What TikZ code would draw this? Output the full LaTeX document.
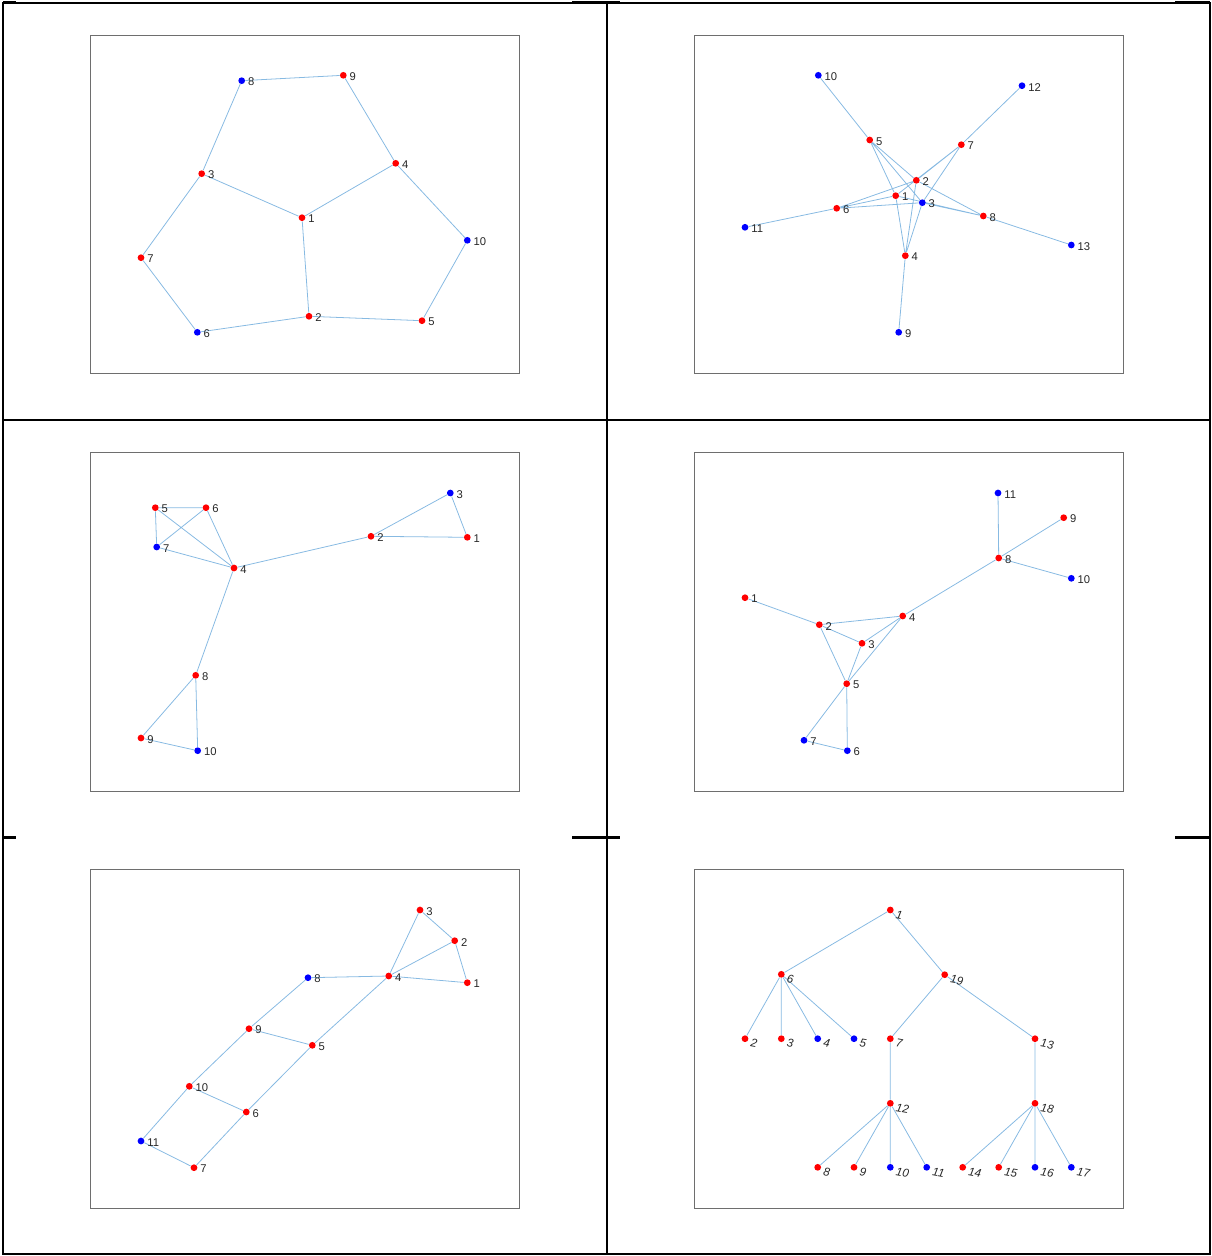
\documentclass[tikz,border=0pt]{standalone}
\usepackage{fontspec}
\setmainfont{Liberation Sans}
\usetikzlibrary{backgrounds}
\definecolor{edgeblue}{RGB}{135,186,226}
\definecolor{txtgray}{RGB}{38,38,38}
\definecolor{boxgray}{RGB}{110,110,110}

\begin{document}
\begin{tikzpicture}[x=0.02cm, y=-0.02cm,
    vr/.style={circle, fill=red, inner sep=0pt, minimum size=0.135cm},
    vb/.style={circle, fill=blue, inner sep=0pt, minimum size=0.135cm},
    lb/.style={font=\fontsize{6.4}{7}\selectfont, text=txtgray, inner sep=0pt, yshift=-0.8pt},
    tlb/.style={lb, font=\fontsize{6.6}{7}\selectfont\itshape, rotate=-10, yshift=2pt},
    ed/.style={draw=edgeblue, line width=0.45pt},
    frame/.style={draw=boxgray, line width=0.45pt},
    label distance=1.3pt]

    \useasboundingbox (0,0) rectangle (1212,1256);

    %table lines
    \draw[line width=0.85pt] (3,3) rectangle (1210,1254);
    \draw[line width=0.85pt] (607,3) -- (607,1254);
    \draw[line width=0.85pt] (3,420) -- (1210,420);
    \draw[line width=1.7pt] (3,3) -- (16,3) (572,3) -- (620,3) (1175,3) -- (1210,3);
    \draw[line width=1.7pt] (3,420) -- (16,420) (572,420) -- (620,420) (1175,420) -- (1210,420);
    \draw[line width=1.7pt] (3,837) -- (16,837) (572,837) -- (620,837) (1175,837) -- (1210,837);

    %plot frames
    \draw[frame] (90,35) rectangle (519,373);
    \draw[frame] (694,35) rectangle (1123,373);
    \draw[frame] (90,452) rectangle (519,791);
    \draw[frame] (694,452) rectangle (1123,791);
    \draw[frame] (90,869) rectangle (519,1208);
    \draw[frame] (694,869) rectangle (1123,1208);

    %graph 1
    \node[vr, label={[lb]0:1}] (a1) at (302,217.7) {};
    \node[vr, label={[lb]0:2}] (a2) at (309,316.3) {};
    \node[vr, label={[lb]0:3}] (a3) at (201.7,173.7) {};
    \node[vr, label={[lb]0:4}] (a4) at (395.7,163.3) {};
    \node[vr, label={[lb]0:5}] (a5) at (422,320.7) {};
    \node[vb, label={[lb]0:6}] (a6) at (197.3,332.3) {};
    \node[vr, label={[lb]0:7}] (a7) at (141,257.7) {};
    \node[vb, label={[lb]0:8}] (a8) at (241.7,80.7) {};
    \node[vr, label={[lb]0:9}] (a9) at (343.3,75.3) {};
    \node[vb, label={[lb]0:10}] (a10) at (467.3,240.3) {};

    %graph 2
    \node[vr, label={[lb]0:1}] (b1) at (895.7,195.7) {};
    \node[vr, label={[lb]0:2}] (b2) at (916.3,180.3) {};
    \node[vb, label={[lb]0:3}] (b3) at (922.3,202.7) {};
    \node[vr, label={[lb]0:4}] (b4) at (905.3,255.7) {};
    \node[vr, label={[lb]0:5}] (b5) at (869.7,140) {};
    \node[vr, label={[lb]0:6}] (b6) at (836.7,208.3) {};
    \node[vr, label={[lb]0:7}] (b7) at (961.3,144.7) {};
    \node[vr, label={[lb]0:8}] (b8) at (983.3,216) {};
    \node[vb, label={[lb]0:9}] (b9) at (898.7,332.3) {};
    \node[vb, label={[lb]0:10}] (b10) at (818.3,75.3) {};
    \node[vb, label={[lb]0:11}] (b11) at (745,227.3) {};
    \node[vb, label={[lb]0:12}] (b12) at (1022,85.7) {};
    \node[vb, label={[lb]0:13}] (b13) at (1071.3,245) {};

    %graph 3
    \node[vr, label={[lb]0:1}] (c1) at (467.3,537.3) {};
    \node[vr, label={[lb]0:2}] (c2) at (371,536.3) {};
    \node[vb, label={[lb]0:3}] (c3) at (450.3,493) {};
    \node[vr, label={[lb]0:4}] (c4) at (234,568) {};
    \node[vr, label={[lb]0:5}] (c5) at (155.3,507.7) {};
    \node[vr, label={[lb]0:6}] (c6) at (206,507.7) {};
    \node[vb, label={[lb]0:7}] (c7) at (156.7,547) {};
    \node[vr, label={[lb]0:8}] (c8) at (195.7,675.3) {};
    \node[vr, label={[lb]0:9}] (c9) at (141,738) {};
    \node[vb, label={[lb]0:10}] (c10) at (197.7,750.7) {};

    %graph 4
    \node[vr, label={[lb]0:1}] (d1) at (745,597.7) {};
    \node[vr, label={[lb]0:2}] (d2) at (819.3,624.7) {};
    \node[vr, label={[lb]0:3}] (d3) at (862,643.3) {};
    \node[vr, label={[lb]0:4}] (d4) at (902.7,616) {};
    \node[vr, label={[lb]0:5}] (d5) at (846.7,683.7) {};
    \node[vb, label={[lb]0:6}] (d6) at (847.3,750.7) {};
    \node[vb, label={[lb]0:7}] (d7) at (804,740.3) {};
    \node[vr, label={[lb]0:8}] (d8) at (998.7,558) {};
    \node[vr, label={[lb]0:9}] (d9) at (1063.7,517.7) {};
    \node[vb, label={[lb]0:10}] (d10) at (1071.3,578.3) {};
    \node[vb, label={[lb]0:11}] (d11) at (998,493) {};

    %graph 5
    \node[vr, label={[lb]0:1}] (e1) at (467.3,982.7) {};
    \node[vr, label={[lb]0:2}] (e2) at (454.7,940.7) {};
    \node[vr, label={[lb]0:3}] (e3) at (420,910) {};
    \node[vr, label={[lb]0:4}] (e4) at (388.7,976) {};
    \node[vr, label={[lb]0:5}] (e5) at (312.3,1045.3) {};
    \node[vr, label={[lb]0:6}] (e6) at (246.3,1112) {};
    \node[vr, label={[lb]0:7}] (e7) at (194,1167.7) {};
    \node[vb, label={[lb]0:8}] (e8) at (308,977.7) {};
    \node[vr, label={[lb]0:9}] (e9) at (249,1028.7) {};
    \node[vr, label={[lb]0:10}] (e10) at (189.3,1086.3) {};
    \node[vb, label={[lb]0:11}] (e11) at (141,1141) {};

    %graph 6 (tree)
    \node[vr, label={[tlb]-15:1}] (f1) at (890.3,910) {};
    \node[vr, label={[tlb]-15:6}] (f6) at (781.3,974.3) {};
    \node[vr, label={[tlb]-15:19}] (f19) at (944.7,974.7) {};
    \node[vr, label={[tlb]-15:2}] (f2) at (745,1038.7) {};
    \node[vr, label={[tlb]-15:3}] (f3) at (781.3,1038.7) {};
    \node[vb, label={[tlb]-15:4}] (f4) at (817.7,1038.7) {};
    \node[vb, label={[tlb]-15:5}] (f5) at (854,1038.7) {};
    \node[vr, label={[tlb]-15:7}] (f7) at (890.3,1038.7) {};
    \node[vr, label={[tlb]-15:13}] (f13) at (1035,1038.7) {};
    \node[vr, label={[tlb]-15:12}] (f12) at (890.3,1103.3) {};
    \node[vr, label={[tlb]-15:18}] (f18) at (1035,1103.3) {};
    \node[vr, label={[tlb]-15:8}] (f8) at (817.7,1167.3) {};
    \node[vr, label={[tlb]-15:9}] (f9) at (854,1167.3) {};
    \node[vb, label={[tlb]-15:10}] (f10) at (890.3,1167.3) {};
    \node[vb, label={[tlb]-15:11}] (f11) at (926.7,1167.3) {};
    \node[vr, label={[tlb]-15:14}] (f14) at (962.7,1167.3) {};
    \node[vr, label={[tlb]-15:15}] (f15) at (998.7,1167.3) {};
    \node[vb, label={[tlb]-15:16}] (f16) at (1035,1167.3) {};
    \node[vb, label={[tlb]-15:17}] (f17) at (1071.3,1167.3) {};

    %edges
    \begin{pgfonlayer}{background}
      \path[ed] (a8) -- (a9) (a9) -- (a4) (a8) -- (a3) (a3) -- (a1) (a1) -- (a4)
        (a3) -- (a7) (a7) -- (a6) (a6) -- (a2) (a2) -- (a1) (a2) -- (a5)
        (a5) -- (a10) (a10) -- (a4);
      \path[ed] (b10) -- (b5) (b12) -- (b7) (b11) -- (b6) (b13) -- (b8) (b9) -- (b4)
        (b5) -- (b1) (b5) -- (b3) (b5) -- (b2) (b7) -- (b2) (b7) -- (b1) (b7) -- (b3)
        (b6) -- (b2) (b6) -- (b1) (b6) -- (b3) (b2) -- (b8) (b2) -- (b4)
        (b1) -- (b8) (b3) -- (b8) (b1) -- (b4) (b3) -- (b4);
      \path[ed] (c5) -- (c6) (c5) -- (c7) (c5) -- (c4) (c6) -- (c7) (c6) -- (c4)
        (c7) -- (c4) (c4) -- (c2) (c2) -- (c3) (c2) -- (c1) (c3) -- (c1)
        (c4) -- (c8) (c8) -- (c9) (c8) -- (c10) (c9) -- (c10);
      \path[ed] (d11) -- (d8) (d9) -- (d8) (d10) -- (d8) (d8) -- (d4) (d1) -- (d2)
        (d2) -- (d4) (d2) -- (d3) (d2) -- (d5) (d3) -- (d4) (d3) -- (d5)
        (d4) -- (d5) (d5) -- (d7) (d5) -- (d6) (d7) -- (d6);
      \path[ed] (e3) -- (e2) (e3) -- (e4) (e2) -- (e4) (e2) -- (e1) (e4) -- (e1)
        (e8) -- (e4) (e8) -- (e9) (e4) -- (e5) (e9) -- (e5) (e9) -- (e10)
        (e5) -- (e6) (e10) -- (e6) (e10) -- (e11) (e6) -- (e7) (e11) -- (e7);
      \path[ed] (f1) -- (f6) (f1) -- (f19) (f6) -- (f2) (f6) -- (f3) (f6) -- (f4)
        (f6) -- (f5) (f19) -- (f7) (f19) -- (f13) (f7) -- (f12) (f13) -- (f18)
        (f12) -- (f8) (f12) -- (f9) (f12) -- (f10) (f12) -- (f11)
        (f18) -- (f14) (f18) -- (f15) (f18) -- (f16) (f18) -- (f17);
    \end{pgfonlayer}

\end{tikzpicture}
\end{document}
